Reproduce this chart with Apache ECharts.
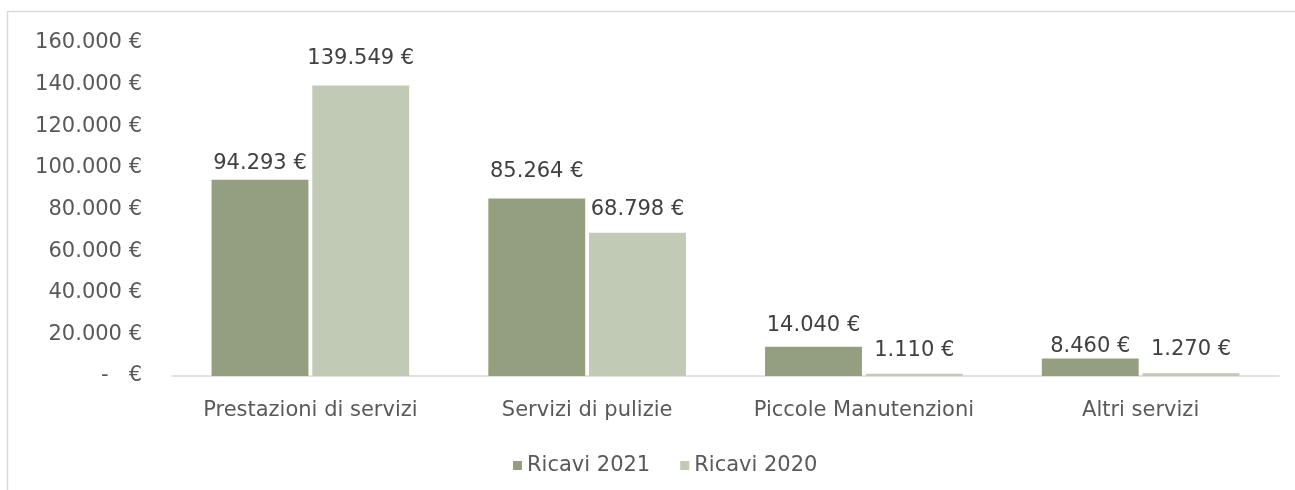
<!DOCTYPE html>
<html>
<head>
<meta charset="utf-8">
<script src="https://cdn.jsdelivr.net/npm/echarts@6/dist/echarts.min.js"></script>
<style>
html,body{margin:0;padding:0;background:#fff;}
#chart{width:1295px;height:490px;}
</style>
</head>
<body>
<div id="chart"></div>
<script>
var categories = ['Prestazioni di servizi', 'Servizi di pulizie', 'Piccole Manutenzioni', 'Altri servizi'];
var ricavi2021 = [94293, 85264, 14040, 8460];
var ricavi2020 = [139549, 68798, 1110, 1270];
var seriesNames = ['Ricavi 2021', 'Ricavi 2020'];
var yMin = 0, yMax = 160000, yStep = 20000;

// label distances above each bar (style only, mimics the reference's label placement)
var labelGap2021 = [6, 16, 11, 1];
var labelGap2020 = [17, 13, 13, 13];

var FONT = "'DejaVu Sans', sans-serif";
function fmt(v) {
  return String(Math.round(v)).replace(/\B(?=(\d{3})+(?!\d))/g, '.') + ' €';
}
function items(values, gaps) {
  return values.map(function (v, i) {
    return {value: v, label: {distance: gaps[i]}};
  });
}

var chart = echarts.init(document.getElementById('chart'), null, {renderer: 'canvas'});
var labelCfg = {
  show: true, position: 'top', distance: 10,
  color: '#404040', fontFamily: FONT, fontSize: 21,
  formatter: function (p) { return fmt(p.value); }
};
chart.setOption({
  animation: false,
  backgroundColor: '#ffffff',
  graphic: [{
    type: 'rect', silent: true,
    shape: {x: 7.5, y: 11.5, width: 1400, height: 600},
    style: {fill: 'none', stroke: '#D9D9D9', lineWidth: 1.5}
  }],
  grid: {left: 172, right: 16, top: 43, bottom: 114, containLabel: false},
  legend: {
    data: seriesNames,
    left: 508, top: 450,
    itemWidth: 9, itemHeight: 9, itemGap: 30,
    icon: 'rect',
    textStyle: {color: '#595959', fontFamily: FONT, fontSize: 21}
  },
  xAxis: {
    type: 'category', data: categories,
    axisLine: {show: true, lineStyle: {color: '#D9D9D9', width: 1.5}},
    axisTick: {show: false},
    axisLabel: {color: '#595959', fontFamily: FONT, fontSize: 21, margin: 24, interval: 0}
  },
  yAxis: {
    type: 'value', min: yMin, max: yMax, interval: yStep,
    axisLine: {show: false}, axisTick: {show: false},
    splitLine: {show: false},
    axisLabel: {
      color: '#595959', fontFamily: FONT, fontSize: 21, margin: 30,
      formatter: function (v) { return v === 0 ? '-   €' : fmt(v); }
    }
  },
  series: [
    {name: seriesNames[0], type: 'bar', data: items(ricavi2021, labelGap2021), barWidth: '35%', barGap: '4%',
     itemStyle: {color: '#939F7F'}, label: labelCfg},
    {name: seriesNames[1], type: 'bar', data: items(ricavi2020, labelGap2020), barWidth: '35%', barGap: '4%',
     itemStyle: {color: '#C1CAB4'}, label: labelCfg}
  ]
});
</script>
</body>
</html>
